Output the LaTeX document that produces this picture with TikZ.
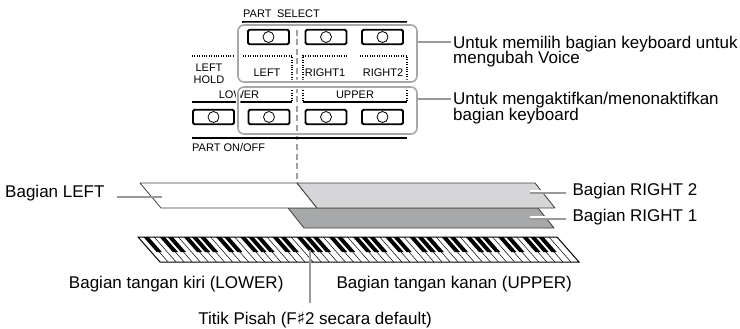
\documentclass[tikz,border=0pt]{standalone}
\usepackage{fontspec}
\setmainfont{Liberation Sans}
\newfontfamily\symfont{DejaVu Sans}
\usetikzlibrary{positioning}
\definecolor{panelgray}{HTML}{A8A8A8}
\definecolor{leadgray}{HTML}{9A9A9A}
\definecolor{dashgray}{HTML}{A0A0A0}
\definecolor{layerlight}{HTML}{D6D6D8}
\definecolor{layerdark}{HTML}{A7A8AA}

\begin{document}
\begin{tikzpicture}[x=1pt, y=-1pt, font=\fontsize{17}{16}\selectfont,
    btn/.style={draw, line width=1.8pt, rounded corners=1.5pt,
                minimum width=41pt, minimum height=14.5pt, inner sep=0pt},
    grp/.style={draw=panelgray, line width=1.6pt, rounded corners=6pt,
                inner sep=0pt, preaction={draw=white, line width=4.5pt}},
    tag/.style={font=\fontsize{11}{12}\selectfont, inner sep=0pt, align=center},
    note/.style={inner sep=0pt, align=left},
    leader/.style={draw=leadgray, line width=1.5pt},
    dots/.style={dash pattern=on 1pt off 1.4pt, line width=1.1pt},
    layer/.style={draw=black!75, line width=0.8pt, line join=round}]
  \useasboundingbox (0,0) rectangle (740,329);

  % panel buttons
  \node[tag, anchor=base west] (selhead) at (243,18) {PART\enspace SELECT};
  \draw[line width=1.4pt] (242,22) -- (407,22);
  \draw[dashgray, line width=2.6pt, dash pattern=on 6pt off 3.5pt] (297,30) -- (297,182);

  \node[btn] (selleft) at (268.5,37) {};
  \node[btn] (selright1) at (326,37) {};
  \node[btn] (selright2) at (382.5,37) {};
  \node[btn] (hold) at (213.5,117) {};
  \node[btn] (onleft) at (269,117) {};
  \node[btn] (onright1) at (326,117) {};
  \node[btn] (onright2) at (382.5,117) {};
  \foreach \b in {selleft,selright1,selright2,hold,onleft,onright1,onright2}
    \draw[line width=0.8pt] (\b.center) circle (5.5pt);

  \draw[dots] (192,56) -- (233,56);
  \draw[dots] (243,56) -- (292,56) -- (292,80);
  \draw[dots] (303,80) -- (303,56) -- (348,56);
  \draw[dots] (360,56) -- (407,56) -- (407,80);
  \draw[dots] (292,88) -- (292,102);
  \draw[dots] (303,88) -- (303,102);
  \draw[dots] (407,88) -- (407,102);
  \draw[line width=1.4pt] (192,102) -- (292,102);
  \draw[line width=1.4pt] (303,102) -- (407,102);
  \draw[line width=1.4pt] (192,138) -- (407,138);

  \node[tag] (lefthold) at (209,74) {LEFT\\HOLD};
  \node[tag] (tleft) at (267,73) {LEFT};
  \node[tag] (tright1) at (325,73) {RIGHT1};
  \node[tag] (tright2) at (383,73) {RIGHT2};
  \node[tag] (tlower) at (239,95) {LOWER};
  \node[tag] (tupper) at (355,95) {UPPER};
  \node[tag, anchor=base west] (onhead) at (192,151) {PART ON/OFF};

  \node[grp, minimum width=179pt, minimum height=57pt] (selbox) at (327.5,53.5) {};
  \node[grp, minimum width=179pt, minimum height=47pt] (onbox) at (327.5,110.5) {};

  \node[note, anchor=base west] (seltxt) at (453,64)
    {Untuk memilih bagian keyboard untuk\\mengubah Voice};
  \node[note, anchor=base west] (ontxt) at (453,121)
    {Untuk mengaktifkan/menonaktifkan\\bagian keyboard};
  \coordinate (seltip) at ([xshift=-2pt, yshift=22pt]seltxt.base west);
  \coordinate (ontip) at ([xshift=-2pt, yshift=22pt]ontxt.base west);
  \draw[leader] (selbox.east |- seltip) -- (seltip);
  \draw[leader] (onbox.east |- ontip) -- (ontip);

  % keyboard parts
  \filldraw[layer, fill=layerdark] (288,208) -- (538,208) -- (554,228) -- (304,228) -- cycle;
  \filldraw[layer, fill=white] (140,183) -- (297,183) -- (317,208) -- (161,208) -- cycle;
  \filldraw[layer, fill=layerlight] (297,183) -- (535,183) -- (555,208) -- (317,208) -- cycle;

  \node[anchor=base east] (lefttxt) at (108,197) {Bagian LEFT};
  \coordinate (leftin) at (162,197);
  \draw[leader] ([xshift=9pt]lefttxt.base east) -- (leftin);

  \node[anchor=mid west] (r2txt) at (569,193) {Bagian RIGHT 2};
  \node[anchor=mid west] (r1txt) at (569,219) {Bagian RIGHT 1};
  \coordinate (r2in) at (530,193);
  \coordinate (r1in) at (530,219);
  \foreach \r in {r2,r1} {
    \draw[white, line width=1.8pt] ([yshift=1.7pt]\r in) -- ([yshift=1.7pt]\r in -| \r txt.west);
    \draw[leader] (\r in) -- ([xshift=-3pt]\r txt.mid west);
  }

  % keys
  \draw[line width=1pt, fill=white] (138,237) -- (557,237) -- (579,262) -- (160,262) -- cycle;
  \foreach \k in {1,...,51}
    \draw[line width=0.5pt] ({138+\k*8.058},237) -- ++(22,25);
  \foreach \k in {0,...,50} {
    \pgfmathtruncatemacro\kn{mod(\k,7)}
    \ifnum\kn=1 \else \ifnum\kn=4 \else
      \fill ({138+(\k+1)*8.058-2.6},237) -- ++(5.2,0) -- ++(13.2,15) -- ++(-5.2,0) -- cycle;
    \fi\fi
  }

  \coordinate (splitpt) at (310,250);
  \node[anchor=base east] (lowtxt) at (287,288) {Bagian tangan kiri (LOWER)};
  \node[anchor=base west] (upptxt) at (333,288) {Bagian tangan kanan (UPPER)};
  \node[anchor=base] (splittxt) at (315,324) {Titik Pisah (F{\symfont ♯}2 secara default)};
  \draw[leader, shorten >=5pt] (splitpt) -- (splitpt |- splittxt.north);
\end{tikzpicture}
\end{document}
